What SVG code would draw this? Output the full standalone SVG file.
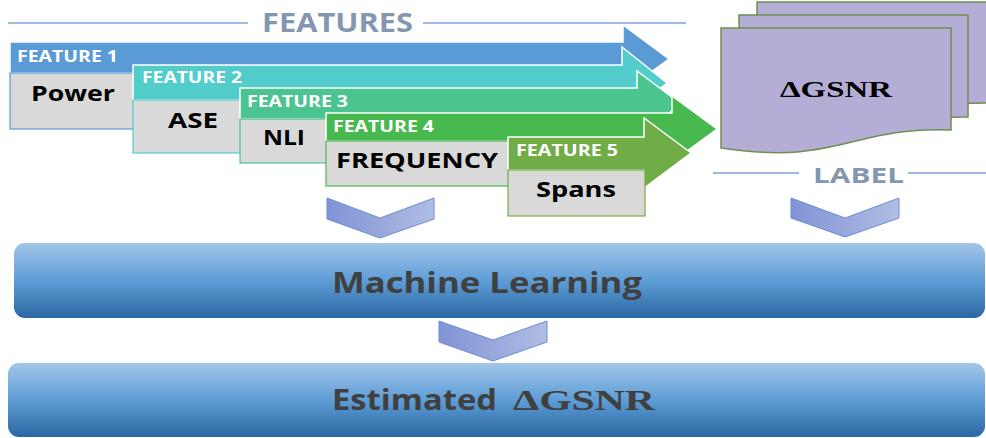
<svg xmlns="http://www.w3.org/2000/svg" width="986" height="438" viewBox="0 0 986 438">
<defs>
<linearGradient id="barGrad" x1="0" y1="0" x2="0" y2="1">
<stop offset="0" stop-color="#A3C6E9"/>
<stop offset="0.5" stop-color="#5E9DD6"/>
<stop offset="1" stop-color="#2B67A3"/>
</linearGradient>
<linearGradient id="chevGrad" x1="0" y1="0" x2="1" y2="0">
<stop offset="0" stop-color="#8193D5"/>
<stop offset="1" stop-color="#B0BDE4"/>
</linearGradient>
</defs>
<style>
.head{font-family:"Open Sans","Liberation Sans",sans-serif;font-weight:700;fill:#8497B0}
.ft{font-family:"Open Sans","Liberation Sans",sans-serif;font-weight:700;font-size:16.5px;fill:#FFFFFF}
.val{font-family:"Open Sans","Liberation Sans",sans-serif;font-weight:700;font-size:22px;fill:#000000}
.arrow{stroke:#FFFFFF;stroke-width:1.5}
.grey{fill:#D9D9D9;stroke-width:1.2}
.doc{fill:#B4AED6;stroke:#6E8F4E;stroke-width:1.5}
.bar{fill:url(#barGrad)}
.bartxt{font-family:"Open Sans","Liberation Sans",sans-serif;font-weight:700;fill:#404040}
.serif{font-family:"Liberation Serif","DejaVu Serif",serif;font-weight:700}
.chev{fill:url(#chevGrad);stroke:#6C8ED2;stroke-width:1}
.rule{stroke:#7FA3D9;stroke-width:1.5;fill:none}
</style>

<g id="features-title">
<line class="rule" x1="8" y1="23" x2="248" y2="23"/>
<text class="head" x="262" y="32" font-size="26" textLength="151" lengthAdjust="spacingAndGlyphs">FEATURES</text>
<line class="rule" x1="423" y1="23" x2="686" y2="23"/>
</g>

<g id="feature1">
<path class="arrow" fill="#5B9BD5" d="M10,42 H623 V25 L669,59 L623,92 V73 H10 Z"/>
<rect class="grey" stroke="#5B9BD5" x="10" y="73" width="135" height="56"/>
<text class="ft" x="17" y="62" textLength="101" lengthAdjust="spacingAndGlyphs">FEATURE 1</text>
<text class="val" x="31" y="101" textLength="84" lengthAdjust="spacingAndGlyphs">Power</text>
</g>

<g id="feature2">
<path class="arrow" fill="#52CDCB" d="M133,65 H622 V47 L667,83 L622,119 V100 H133 Z"/>
<rect class="grey" stroke="#52CDCB" x="133" y="100" width="120" height="53"/>
<text class="ft" x="142" y="83" textLength="100" lengthAdjust="spacingAndGlyphs">FEATURE 2</text>
<text class="val" x="168" y="128" textLength="50" lengthAdjust="spacingAndGlyphs">ASE</text>
</g>

<g id="feature3">
<path class="arrow" fill="#4CC48F" d="M240,88 H637 V71 L681,104 L637,137 V119 H240 Z"/>
<rect class="grey" stroke="#4CC48F" x="240" y="119" width="100" height="44"/>
<text class="ft" x="247" y="107" textLength="101" lengthAdjust="spacingAndGlyphs">FEATURE 3</text>
<text class="val" x="263" y="145" textLength="42" lengthAdjust="spacingAndGlyphs">NLI</text>
</g>

<g id="feature4">
<path class="arrow" fill="#47B94F" d="M326,113 H672 V96 L717,129 L672,162 V141 H326 Z"/>
<rect class="grey" stroke="#47B94F" x="326" y="141" width="190" height="45"/>
<text class="ft" x="333" y="132" textLength="101" lengthAdjust="spacingAndGlyphs">FEATURE 4</text>
<text class="val" x="336" y="168" textLength="162" lengthAdjust="spacingAndGlyphs">FREQUENCY</text>
</g>

<g id="feature5">
<path class="arrow" fill="#70AD47" d="M508,137 H644 V118 L691,153 L644,188 V170 H508 Z"/>
<rect class="grey" stroke="#70AD47" x="508" y="170" width="137" height="46"/>
<text class="ft" x="516" y="156" textLength="102" lengthAdjust="spacingAndGlyphs">FEATURE 5</text>
<text class="val" x="536" y="197" textLength="80" lengthAdjust="spacingAndGlyphs">Spans</text>
</g>

<g id="label-docs">
<path class="doc" d="M757,2 H990 V103 C873,103 873,142 757,119 Z"/>
<path class="doc" d="M739,15 H968 V117 C854,117 854,156 739,134 Z"/>
<path class="doc" d="M721,28 H951 V130 C850,126 840,166 721,148 Z"/>
<text class="serif" x="780" y="97" font-size="23" fill="#000000" textLength="112" lengthAdjust="spacingAndGlyphs">ΔGSNR</text>
</g>

<g id="label-title">
<line class="rule" stroke="#8FAADC" x1="713" y1="173" x2="799" y2="173"/>
<text class="head" x="813" y="183" font-size="22" textLength="91" lengthAdjust="spacingAndGlyphs">LABEL</text>
<line class="rule" stroke="#8FAADC" x1="908" y1="173" x2="990" y2="173"/>
</g>

<g id="connectors">
<polygon class="chev" points="327,198 380,218 434,198 434,219 380,238 327,219"/>
<polygon class="chev" points="791,198 845,218 899,198 899,218 845,237 791,218"/>
<polygon class="chev" points="439,321 493,340 547,321 547,342 493,361 439,342"/>
</g>

<g id="machine-learning">
<rect class="bar" x="14" y="243" width="971" height="75" rx="11" ry="11"/>
<text class="bartxt" x="332" y="293" font-size="29" textLength="310" lengthAdjust="spacingAndGlyphs">Machine Learning</text>
</g>

<g id="estimated">
<rect class="bar" x="8" y="363" width="977" height="74" rx="11" ry="11"/>
<text class="bartxt" y="410" font-size="28"><tspan x="332" textLength="165" lengthAdjust="spacingAndGlyphs">Estimated</tspan><tspan x="513" class="serif" font-size="30" textLength="142" lengthAdjust="spacingAndGlyphs">ΔGSNR</tspan></text>
</g>
</svg>
